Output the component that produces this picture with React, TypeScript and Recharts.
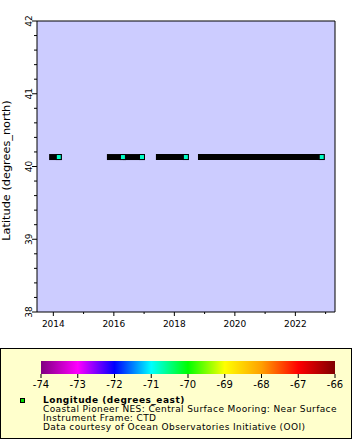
import { ComposedChart, Line, XAxis, YAxis, ReferenceArea } from 'recharts'

// deployment segments (decimal year), latitude / longitude of the mooring
const segStart = [2013.96, 2015.87, 2016.4, 2017.49, 2018.88]
const segEnd = [2014.18, 2016.3, 2016.93, 2018.38, 2022.87]
const segLat = [40.13, 40.13, 40.13, 40.13, 40.13]
const segLon = [-70.78, -70.78, -70.78, -70.78, -70.78]

const yearDomain = [2013.46, 2023.31]
const yearTicks = [2014, 2015, 2016, 2017, 2018, 2019, 2020, 2021, 2022, 2023]
const yearLabels = [2014, 2016, 2018, 2020, 2022]

const latDomain = [38, 42]
const latTicks = [
  38, 38.2, 38.4, 38.6, 38.8, 39, 39.2, 39.4, 39.6, 39.8, 40, 40.2, 40.4, 40.6, 40.8, 41, 41.2,
  41.4, 41.6, 41.8, 42,
]
const latLabels = [38, 39, 40, 41, 42]

// colour bar
const lonTicks = [-74, -73, -72, -71, -70, -69, -68, -67, -66]
const paletteColors = [
  '#800080', '#ff00ff', '#0000ff', '#00ffff', '#00ff00', '#ffff00', '#ffa000', '#ff0000', '#800000',
]

const legendLines = [
  'Coastal Pioneer NES: Central Surface Mooring: Near Surface',
  'Instrument Frame: CTD',
  'Data courtesy of Ocean Observatories Initiative (OOI)',
]

const FONT = 'DejaVu Sans'

function hex(c: string) {
  return [1, 3, 5].map((i) => parseInt(c.slice(i, i + 2), 16))
}

// colour of a longitude on the palette
function lonColor(v: number) {
  const f = (v - lonTicks[0]) / (lonTicks[lonTicks.length - 1] - lonTicks[0])
  const p = Math.max(0, Math.min(1, f)) * (paletteColors.length - 1)
  const i = Math.min(Math.floor(p), paletteColors.length - 2)
  const a = hex(paletteColors[i])
  const b = hex(paletteColors[i + 1])
  const t = p - i
  const m = a.map((x, k) => Math.round(x + (b[k] - x) * t))
  return `rgb(${m[0]},${m[1]},${m[2]})`
}

function YTick(props: any) {
  const { x, y, payload } = props
  const major = latLabels.includes(payload.value)
  return (
    <g>
      <line x1={x} x2={x - (major ? 5 : 3)} y1={y} y2={y} stroke="#000" />
      {major && (
        <text
          x={x - 5}
          y={y}
          transform={`rotate(-90 ${x - 5} ${y})`}
          textAnchor="middle"
          fontSize={9}
          fontFamily={FONT}
          fill="#000"
        >
          {payload.value}
        </text>
      )}
    </g>
  )
}

function XTick(props: any) {
  const { x, y, payload } = props
  const major = yearLabels.includes(payload.value)
  return (
    <g>
      <line x1={x} x2={x} y1={y} y2={y + (major ? 4 : 2)} stroke="#000" />
      {major && (
        <text x={x} y={y + 15} textAnchor="middle" fontSize={9} fontFamily={FONT} fill="#000">
          {payload.value}
        </text>
      )}
    </g>
  )
}

export default function App() {
  return (
    <div style={{ position: 'relative', width: 360, height: 440, background: '#fff' }}>
      <style>{'body{margin:0}'}</style>
      <ComposedChart width={360} height={340} margin={{ top: 21, right: 25, bottom: 0, left: 0 }}>
        <XAxis
          type="number"
          dataKey="t"
          domain={yearDomain}
          ticks={yearTicks}
          interval={0}
          allowDataOverflow
          tickSize={0}
          tickMargin={0}
          axisLine={false}
          tick={<XTick />}
          height={28}
        />
        <YAxis
          type="number"
          domain={latDomain}
          ticks={latTicks}
          interval={0}
          allowDataOverflow
          tickSize={0}
          tickMargin={0}
          axisLine={false}
          tick={<YTick />}
          width={37}
          label={{
            content: (p: any) => {
              const vb = p.viewBox || { y: 21, height: 291 }
              const cy = vb.y + vb.height / 2 + 4
              return (
                <text
                  x={10}
                  y={cy}
                  transform={`rotate(-90 10 ${cy})`}
                  textAnchor="middle"
                  fontSize={11.3}
                  fontFamily={FONT}
                  fill="#000"
                >
                  Latitude (degrees_north)
                </text>
              )
            },
          }}
        />
        <ReferenceArea
          x1={yearDomain[0]}
          x2={yearDomain[1]}
          y1={latDomain[0]}
          y2={latDomain[1]}
          fill="#ccccff"
          fillOpacity={1}
          stroke="#000"
          strokeWidth={1}
          ifOverflow="visible"
        />
        {segStart.map((s, i) => (
          <Line
            key={i}
            data={[
              { t: s, lat: segLat[i] },
              { t: segEnd[i], lat: segLat[i] },
            ]}
            dataKey="lat"
            type="linear"
            stroke="#000"
            strokeWidth={6}
            strokeLinecap="square"
            isAnimationActive={false}
            activeDot={false}
            dot={(p: any) =>
              p.index === 1 ? (
                <rect
                  key={`end-${i}`}
                  x={p.cx - 2.5}
                  y={p.cy - 2.5}
                  width={5}
                  height={5}
                  fill={lonColor(segLon[i])}
                  stroke="#000"
                  strokeWidth={1}
                />
              ) : (
                <g key={`start-${i}`} />
              )
            }
          />
        ))}
      </ComposedChart>

      <svg width={360} height={100} style={{ position: 'absolute', left: 0, top: 340 }}>
        <rect x={0.5} y={8.5} width={351} height={90} fill="#ffffcc" stroke="#000" />
        <rect x={20.5} y={58.5} width={4} height={4} fill="#00e000" stroke="#000" />
        <text
          x={43}
          y={63}
          fontSize={9}
          fontWeight="bold"
          fontFamily={FONT}
          letterSpacing={0.5}
          fill="#000"
        >
          Longitude (degrees_east)
        </text>
        {legendLines.map((s, i) => (
          <text
            key={i}
            x={43}
            y={72 + i * 9}
            fontSize={9}
            fontFamily={FONT}
            letterSpacing={0.4}
            fill="#000"
          >
            {s}
          </text>
        ))}
      </svg>

      <div style={{ position: 'absolute', left: 0, top: 349 }}>
        <ComposedChart
          width={360}
          height={45}
          margin={{ top: 12, right: 25, bottom: 0, left: 41 }}
          data={[
            { v: lonTicks[0], y: 0 },
            { v: lonTicks[lonTicks.length - 1], y: 1 },
          ]}
        >
          <defs>
            <linearGradient id="pal" x1="0" y1="0" x2="1" y2="0">
              {paletteColors.map((c, i) => (
                <stop key={i} offset={`${(i / (paletteColors.length - 1)) * 100}%`} stopColor={c} />
              ))}
            </linearGradient>
          </defs>
          <XAxis
            type="number"
            dataKey="v"
            domain={[lonTicks[0], lonTicks[lonTicks.length - 1]]}
            ticks={lonTicks}
            interval={0}
            tickSize={4}
            tickMargin={3}
            axisLine={false}
            tickLine={{ stroke: '#000' }}
            tick={{ fill: '#000', fontSize: 10, fontFamily: FONT }}
            height={20}
          />
          <YAxis hide type="number" domain={[0, 1]} />
          <ReferenceArea
            x1={lonTicks[0]}
            x2={lonTicks[lonTicks.length - 1]}
            y1={0}
            y2={1}
            fill="url(#pal)"
            fillOpacity={1}
            stroke="none"
            ifOverflow="visible"
          />
          <Line dataKey="y" stroke="none" dot={false} activeDot={false} isAnimationActive={false} />
        </ComposedChart>
      </div>
    </div>
  )
}
